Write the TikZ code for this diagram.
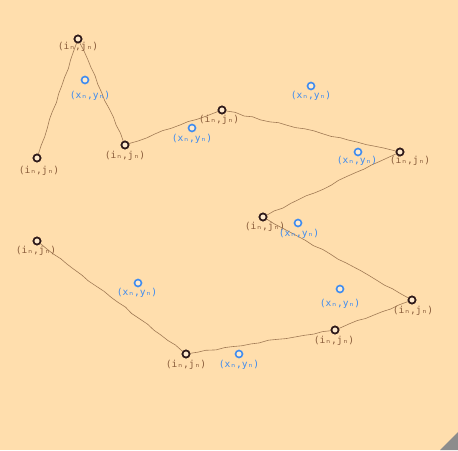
\documentclass[tikz,border=0pt]{standalone}
\usepackage{fontspec}
\setmonofont{DejaVu Sans Mono}
\usetikzlibrary{decorations.pathmorphing}
\definecolor{bg}{HTML}{FFDEAD}
\definecolor{pt}{HTML}{2E1A1A}
\definecolor{bl}{HTML}{3D8BF0}
\definecolor{lnk}{HTML}{A07A55}
\definecolor{lab}{HTML}{8B5E3C}
\tikzset{
  ij/.style={circle,draw=pt,line width=1.6pt,fill=bg!60!white,inner sep=0pt,minimum size=7pt},
  xy/.style={circle,draw=bl,line width=1.6pt,fill=bg!60!white,inner sep=0pt,minimum size=7pt},
  ijl/.style={font=\ttfamily\fontsize{9.6}{10}\selectfont,text=lab,inner sep=0pt},
  xyl/.style={font=\ttfamily\fontsize{9.6}{10}\selectfont,text=bl,inner sep=0pt},
  wob/.style={draw=lnk,line width=0.6pt,decorate,decoration={random steps,segment length=9pt,amplitude=0.8pt}}
}
\begin{document}
\begin{tikzpicture}[x=1pt,y=-1pt]
\pgfmathsetseed{7}
\fill[bg] (0,0) rectangle (458,450);
\useasboundingbox (0,0) rectangle (458,450);
\fill[gray!90] (458,432) -- (458,450) -- (440,450) -- cycle;
% points
\node[ij] (p1) at (78,39) {};
\node[ij] (p2) at (37,158) {};
\node[ij] (p3) at (125,145) {};
\node[ij] (p4) at (222,110) {};
\node[ij] (p5) at (400,152) {};
\node[ij] (p6) at (263,217) {};
\node[ij] (p7) at (37,241) {};
\node[ij] (p8) at (186,354) {};
\node[ij] (p9) at (335,330) {};
\node[ij] (p10) at (412,300) {};
% connectors
\draw[wob] (p2) -- (p1);
\draw[wob] (p1) -- (p3);
\draw[wob] (p3) -- (p4);
\draw[wob] (p4) -- (p5);
\draw[wob] (p5) -- (p6);
\draw[wob] (p6) -- (p10);
\draw[wob] (p10) -- (p9);
\draw[wob] (p9) -- (p8);
\draw[wob] (p8) -- (p7);
% redraw points on top
\foreach \n in {p1,p2,p3,p4,p5,p6,p7,p8,p9,p10}{\node[ij] at (\n) {};}
% labels
\node[ijl] (l1) at (78,47) {(iₙ,jₙ)};
\node[ijl] (l2) at (39,171) {(iₙ,jₙ)};
\node[ijl] (l3) at (125,156) {(iₙ,jₙ)};
\node[ijl] (l4) at (219,120) {(iₙ,jₙ)};
\node[ijl] (l5) at (410,161) {(iₙ,jₙ)};
\node[ijl] (l6) at (265,227) {(iₙ,jₙ)};
\node[ijl] (l7) at (36,251) {(iₙ,jₙ)};
\node[ijl] (l8) at (186,365) {(iₙ,jₙ)};
\node[ijl] (l9) at (334,341) {(iₙ,jₙ)};
\node[ijl] (l10) at (413,311) {(iₙ,jₙ)};
% blue points
\node[xy] (q1) at (85,80) {};
\node[xy] (q2) at (192,128) {};
\node[xy] (q3) at (311,86) {};
\node[xy] (q4) at (358,152) {};
\node[xy] (q5) at (298,223) {};
\node[xy] (q6) at (138,283) {};
\node[xy] (q7) at (340,289) {};
\node[xy] (q8) at (239,354) {};
\node[xyl] (m1) at (90,96) {(xₙ,yₙ)};
\node[xyl] (m2) at (192,139) {(xₙ,yₙ)};
\node[xyl] (m3) at (311,96) {(xₙ,yₙ)};
\node[xyl] (m4) at (357,161) {(xₙ,yₙ)};
\node[xyl] (m5) at (299,234) {(xₙ,yₙ)};
\node[xyl] (m6) at (137,293) {(xₙ,yₙ)};
\node[xyl] (m7) at (340,304) {(xₙ,yₙ)};
\node[xyl] (m8) at (239,365) {(xₙ,yₙ)};
\end{tikzpicture}
\end{document}
